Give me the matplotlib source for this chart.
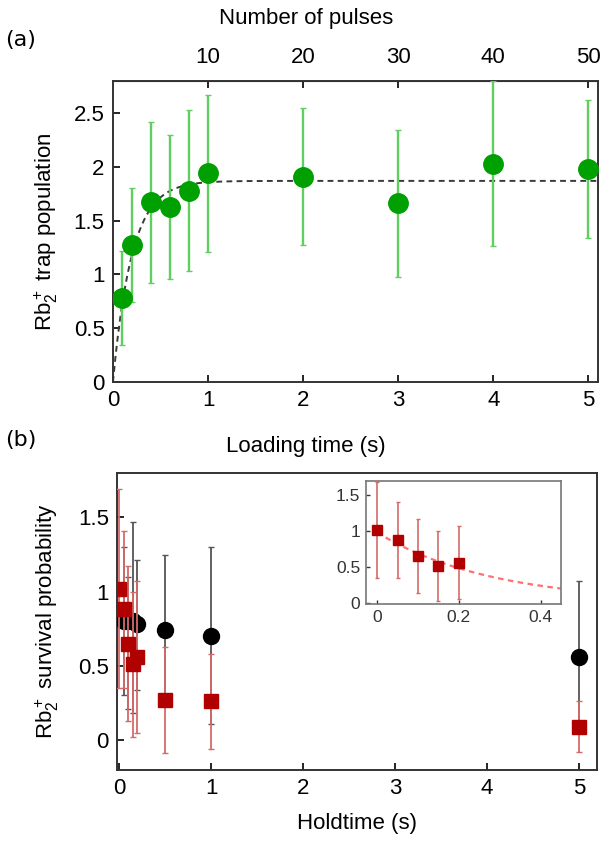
import matplotlib
matplotlib.use('Agg')
import matplotlib.pyplot as plt
import numpy as np
from matplotlib.ticker import FormatStrFormatter

plt.rcParams['font.family'] = ['Liberation Sans', 'DejaVu Sans']
plt.rcParams['mathtext.default'] = 'regular'

# (a) trap loading
load_t = [0.1, 0.2, 0.4, 0.6, 0.8, 1, 2, 3, 4, 5]
load_pop = [0.78, 1.27, 1.67, 1.63, 1.78, 1.94, 1.91, 1.66, 2.03, 1.98]
load_err = [0.44, 0.53, 0.75, 0.67, 0.75, 0.73, 0.64, 0.68, 0.77, 0.64]
load_fit_amp = 1.87
load_fit_tau = 0.2
pulse_ticks = [10, 20, 30, 40, 50]

# (b) survival vs holdtime
hold_black = [0.05, 0.1, 0.15, 0.2, 0.5, 1, 5]
surv_black = [0.80, 0.80, 0.80, 0.78, 0.74, 0.70, 0.56]
err_black_lo = [0.50, 0.59, 0.62, 0.44, 0.51, 0.59, 0.51]
err_black_hi = [0.50, 0.30, 0.67, 0.43, 0.51, 0.60, 0.51]

hold_red = [0, 0.05, 0.1, 0.15, 0.2, 0.5, 1, 5]
surv_red = [1.02, 0.88, 0.65, 0.51, 0.56, 0.27, 0.26, 0.09]
err_red = [0.67, 0.53, 0.52, 0.49, 0.51, 0.36, 0.32, 0.17]

decay_amp = 0.98
decay_tau = 0.28

green = '#00a000'
green_err = '#5fcf5f'
red = '#b00000'
red_err = '#d46a6a'

fig = plt.figure(figsize=(6.04, 8.43), dpi=100)

# ---- panel (a)
ax1 = fig.add_axes([0.187, 0.547, 0.803, 0.357])
tt = np.linspace(0, 5.1, 400)
ax1.plot(tt, load_fit_amp * (1 - np.exp(-tt / load_fit_tau)), ls=(0, (3, 2.2)),
         color='#3a3a3a', lw=1.4, zorder=2)
ax1.errorbar(load_t, load_pop, yerr=load_err, fmt='o', color=green, ms=14,
             ecolor=green_err, elinewidth=1.7, capsize=2, capthick=1, zorder=3)
ax1.set_xlim(0, 5.1)
ax1.set_ylim(0, 2.8)
ax1.set_xticks([0, 1, 2, 3, 4, 5])
ax1.set_yticks([0, 0.5, 1, 1.5, 2, 2.5])
ax1.yaxis.set_major_formatter(FormatStrFormatter('%g'))
ax1.tick_params(direction='in', labelsize=16, length=5, width=1.2, pad=6)
ax1.set_xlabel('Loading time (s)', fontsize=16, labelpad=18)
ax1.xaxis.label.set_x(0.398)
ax1.set_ylabel('Rb$_2^+$ trap population', fontsize=16, labelpad=10)
for s in ax1.spines.values():
    s.set_color('#333333')
    s.set_linewidth(1.4)

sec = ax1.secondary_xaxis('top', functions=(lambda x: x * 10, lambda x: x / 10))
sec.set_xticks(pulse_ticks)
sec.tick_params(direction='in', labelsize=16, length=5, width=1.2, pad=9)
sec.set_xlabel('Number of pulses', fontsize=16, labelpad=17)
sec.xaxis.label.set_x(0.398)

# ---- panel (b)
ax2 = fig.add_axes([0.194, 0.087, 0.795, 0.352])
ax2.errorbar(hold_black, surv_black, yerr=[err_black_lo, err_black_hi], fmt='o',
             color='k', ms=11.5, ecolor='#555555', elinewidth=1.3, capsize=2,
             capthick=1, zorder=3)
ax2.errorbar(hold_red, surv_red, yerr=err_red, fmt='s', color=red, ms=10,
             ecolor=red_err, elinewidth=1.3, capsize=2, capthick=1, zorder=4)
ax2.set_xlim(-0.02, 5.2)
ax2.set_ylim(-0.2, 1.8)
ax2.set_xticks([0, 1, 2, 3, 4, 5])
ax2.set_yticks([0, 0.5, 1, 1.5])
ax2.yaxis.set_major_formatter(FormatStrFormatter('%g'))
ax2.tick_params(direction='in', labelsize=16, length=5, width=1.2, pad=6)
ax2.set_xlabel('Holdtime (s)', fontsize=16, labelpad=10)
ax2.set_ylabel('Rb$_2^+$ survival probability', fontsize=16, labelpad=12)
for s in ax2.spines.values():
    s.set_color('#333333')
    s.set_linewidth(1.4)

# inset
ax3 = fig.add_axes([0.606, 0.2835, 0.323, 0.146])
ti = np.linspace(0, 0.45, 200)
ax3.plot(ti, decay_amp * np.exp(-ti / decay_tau), ls=(0, (2.5, 2)),
         color='#ff7070', lw=1.6, zorder=2)
ax3.errorbar(hold_red[:5], surv_red[:5], yerr=err_red[:5], fmt='s', color=red,
             ms=7, ecolor=red_err, elinewidth=1.2, capsize=1.5, capthick=1, zorder=3)
ax3.set_xlim(-0.027, 0.45)
ax3.set_ylim(-0.02, 1.7)
ax3.set_xticks([0, 0.2, 0.4])
ax3.set_yticks([0, 0.5, 1, 1.5])
ax3.xaxis.set_major_formatter(FormatStrFormatter('%g'))
ax3.yaxis.set_major_formatter(FormatStrFormatter('%g'))
ax3.tick_params(direction='in', labelsize=12.5, length=3, width=1, pad=4,
                colors='#333333')
for s in ax3.spines.values():
    s.set_color('#777777')
    s.set_linewidth(1.2)

fig.text(0.008, 1 - 40 / 843, '(a)', fontsize=16, family='DejaVu Sans', va='center')
fig.text(0.008, 1 - 440 / 843, '(b)', fontsize=16, family='DejaVu Sans', va='center')

fig.savefig('out.png', dpi=100)
